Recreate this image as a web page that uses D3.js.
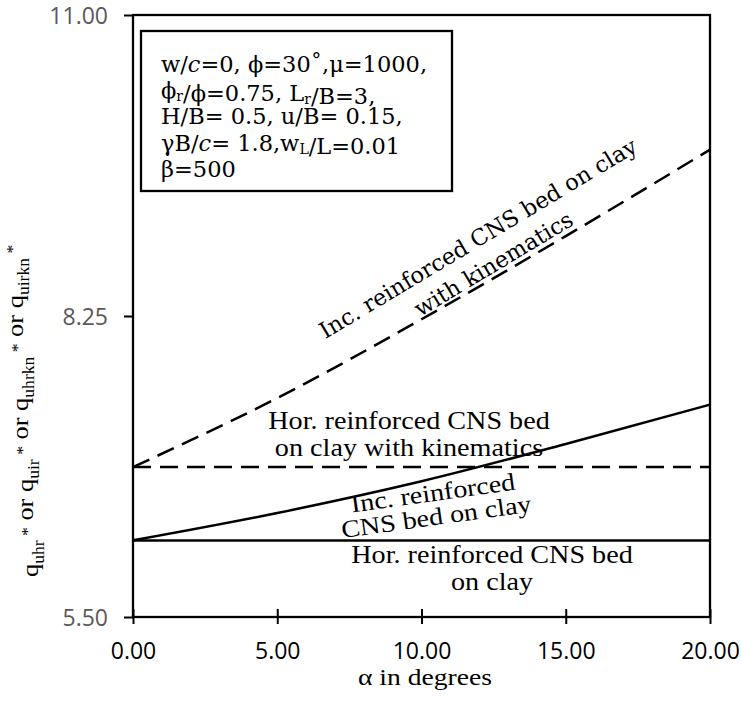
<!DOCTYPE html>
<html>
<head>
<meta charset="utf-8">
<script src="https://cdn.jsdelivr.net/npm/d3@7"></script>
<style>
  body { margin: 0; background: #fff; }
  .serif { font-family: "Liberation Serif", serif; }
  .dvs { font-family: "DejaVu Serif", serif; }
</style>
</head>
<body>
<div class="chart"></div>
<script>
// values
const alpha = [0, 5, 10, 15, 20];
const horReinforced = [6.2, 6.2, 6.2, 6.2, 6.2];
const incReinforced = [6.2, 6.45, 6.74, 7.08, 7.44];
const horKinematics = [6.87, 6.87, 6.87, 6.87, 6.87];
const incKinematics = [6.87, 7.5, 8.22, 8.98, 9.77];
const xTicks = [0, 5, 10, 15, 20];
const yTicks = [5.5, 8.25, 11];

const margin = { top: 15, right: 31, bottom: 90, left: 133 };
const width = 741 - margin.left - margin.right;
const height = 707 - margin.top - margin.bottom;
const stretch = 1.15; // serif captions are wider than Liberation Serif

const root = d3
  .select(".chart")
  .append("svg")
  .attr("width", 741)
  .attr("height", 707);

const svg = root
  .append("g")
  .attr("transform", "translate(" + margin.left + "," + margin.top + ")");

const xScale = d3.scaleLinear().domain([0, 20]).range([0, width]);
const yScale = d3.scaleLinear().domain([5.5, 11]).range([height, 0]);

// frame
svg
  .append("rect")
  .attr("width", width)
  .attr("height", height)
  .attr("fill", "none")
  .attr("stroke", "black")
  .attr("stroke-width", 2.3);

const xAxis = svg
  .append("g")
  .attr("transform", "translate(0," + height + ")")
  .call(
    d3.axisBottom(xScale).tickValues(xTicks).tickSize(7).tickPadding(19)
      .tickFormat((d) => d.toFixed(2))
  );
xAxis.select(".domain").remove();
xAxis.selectAll(".tick line").attr("y1", -8).attr("stroke-width", 2);
xAxis.selectAll("text")
  .style("font-family", "'Open Sans', sans-serif")
  .style("font-size", "23px")
  .attr("fill", "black");

const yAxis = svg
  .append("g")
  .call(
    d3.axisLeft(yScale).tickValues(yTicks).tickSize(9).tickPadding(16)
      .tickFormat((d) => d.toFixed(2))
  );
yAxis.select(".domain").remove();
yAxis.selectAll(".tick line").attr("stroke-width", 2);
yAxis.selectAll("text")
  .style("font-family", "'Open Sans', sans-serif")
  .style("font-size", "23px")
  .attr("dy", "0.36em")
  .attr("fill", "#595959");

const series = [
  { values: horReinforced, dash: null },
  { values: incReinforced, dash: null },
  { values: horKinematics, dash: "18,9" },
  { values: incKinematics, dash: "18,9" },
];

const line = d3
  .line()
  .x((d, i) => xScale(alpha[i]))
  .y((d) => yScale(d))
  .curve(d3.curveMonotoneX);

series.forEach(function (s) {
  svg
    .append("path")
    .datum(s.values)
    .attr("d", line)
    .attr("fill", "none")
    .attr("stroke", "black")
    .attr("stroke-width", 2.5)
    .attr("stroke-dasharray", s.dash);
});

// parameter box
const box = root.append("g").attr("transform", "translate(141,31)");
box
  .append("rect")
  .attr("width", 311)
  .attr("height", 160)
  .attr("fill", "white")
  .attr("stroke", "black")
  .attr("stroke-width", 2.3);

const boxText = box
  .append("text")
  .attr("class", "dvs")
  .style("font-size", "22.5px")
  .attr("fill", "black");

function addLine(parts, i) {
  const t = boxText.append("tspan").attr("x", 20).attr("y", 41 + i * 26.2);
  parts.forEach(function (p) {
    if (typeof p === "string") {
      t.append("tspan").text(p);
    } else if (p.sub) {
      t.append("tspan").attr("dy", 3).style("font-size", "14px").text(p.sub);
      t.append("tspan").attr("dy", -3).text("");
    } else if (p.it) {
      t.append("tspan").style("font-style", "italic").text(p.it);
    }
  });
}

addLine(["w/", { it: "c" }, "=0, \u03D5=30\u02DA,\u03BC=1000,"], 0);
addLine(["\u03D5", { sub: "r" }, "/\u03D5=0.75, L", { sub: "r" }, "/B=3,"], 1);
addLine(["H/B= 0.5, u/B= 0.15,"], 2);
addLine(["\u03B3B/", { it: "c" }, "= 1.8,w", { sub: "L" }, "/L=0.01"], 3);
addLine(["\u03B2=500"], 4);

// curve labels
function label(x, y, angle, lines, cls, size, gap, sx) {
  const g = root
    .append("g")
    .attr("transform", "translate(" + x + "," + y + ") rotate(" + angle + ") scale(" + sx + ",1)");
  lines.forEach(function (l, i) {
    g.append("text")
      .attr("class", cls)
      .attr("text-anchor", "middle")
      .attr("y", i * gap)
      .style("font-size", size + "px")
      .text(l);
  });
}

label(482, 245, -31, ["Inc. reinforced CNS bed on clay", "with kinematics"], "dvs", 22.5, 30, 1);
label(409, 429, 0, ["Hor. reinforced CNS bed", "on clay with kinematics"], "serif", 24.5, 27, stretch);
label(434, 501, -8, ["Inc. reinforced", "CNS bed on clay"], "serif", 24.5, 24, stretch);
label(492, 563, 0, ["Hor. reinforced CNS bed", "on clay"], "serif", 24.5, 27, stretch);

// axis titles
root
  .append("text")
  .attr("class", "serif")
  .attr("text-anchor", "middle")
  .attr("transform", "translate(425,685) scale(" + stretch + ",1)")
  .style("font-size", "24px")
  .text("\u03B1 in degrees");

const yTitle = root
  .append("text")
  .attr("class", "serif")
  .attr("transform", "translate(38,577) rotate(-90) scale(1.1,1)")
  .style("font-size", "24px");

[["q", "uhr"], [" or q", "uir"], [" or q", "uhrkn"], [" or q", "uirkn"]].forEach(function (p) {
  yTitle.append("tspan").text(p[0]);
  yTitle.append("tspan").attr("dy", 6).style("font-size", "16px").text(p[1]);
  yTitle.append("tspan").attr("dy", -11).style("font-size", "16px").text(" *");
  yTitle.append("tspan").attr("dy", 5).text("");
});
</script>
</body>
</html>
